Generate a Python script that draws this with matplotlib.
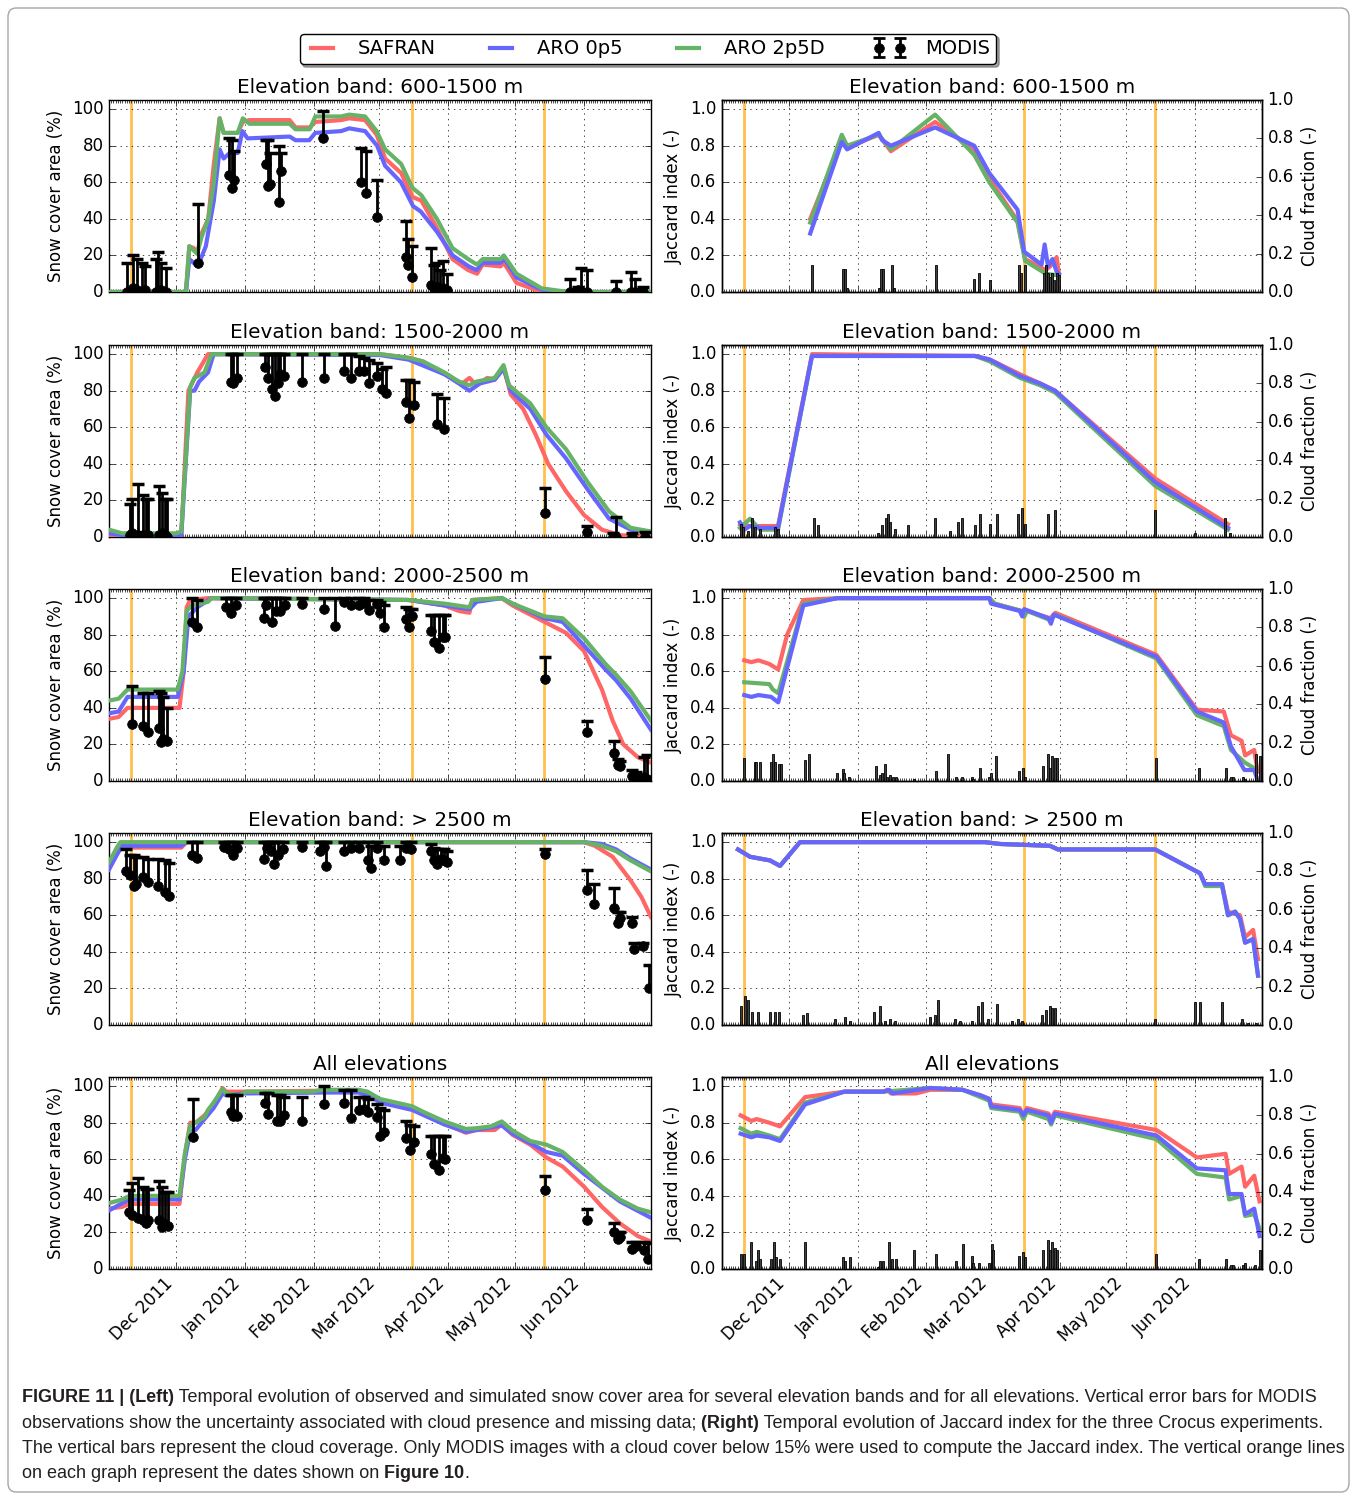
import numpy as np
import matplotlib
matplotlib.use('Agg')
import matplotlib.pyplot as plt
import matplotlib.dates as mdates
from matplotlib.lines import Line2D
from matplotlib.patches import FancyBboxPatch

plt.style.use('classic')
plt.rcParams['figure.facecolor'] = 'white'
plt.rcParams['savefig.facecolor'] = 'white'
plt.rcParams['font.family'] = ['DejaVu Sans']

# ---- data: days since 2011-11-01 ----
titles = ['Elevation band: 600-1500 m', 'Elevation band: 1500-2000 m',
          'Elevation band: 2000-2500 m', 'Elevation band: > 2500 m', 'All elevations']
orange_dates = ['2011-11-11', '2012-03-16', '2012-05-14']

# snow cover area (%), simulations (day, value)
sca1_safran = [(0, 0), (34.5, 0), (36, 25), (38, 24), (39.5, 21), (41.5, 32), (44.5, 40), (47, 70), (49.6, 95),
               (51.4, 87), (57.7, 87), (60, 93), (63, 94), (81, 94), (83.6, 90), (90, 90), (92.5, 93), (104, 94),
               (107.7, 95), (114.8, 94), (120, 86), (123.8, 73), (131, 65), (136, 52), (140, 50), (147, 35),
               (154, 18), (161, 12), (165, 10), (167.5, 15), (175.5, 14), (177, 16), (182.7, 5), (194, 0), (243, 0)]
sca1_aro05 = [(0, 0), (34.5, 0), (36, 18), (39.8, 14), (43.4, 25), (47, 50), (49.6, 78), (51.4, 73), (54.1, 76),
              (57.7, 76), (59.8, 88), (62.1, 84), (81, 85), (83.6, 83), (89.8, 83), (92.5, 87), (104.1, 88),
              (107.7, 89.5), (114.8, 88), (120.2, 80), (123.8, 69), (130.9, 60), (136.3, 47), (139.8, 44),
              (147, 33), (154.1, 20), (161.3, 14), (164.8, 12), (167.5, 16), (175.5, 16), (177.3, 18),
              (182.7, 8), (194.3, 1), (205.9, 0), (243, 0)]
sca1_aro25 = [(0, 0), (34.5, 0), (36, 25), (39.5, 21), (41.5, 30), (44.5, 40), (47, 60), (49.6, 95), (51.4, 87),
              (57.7, 87), (60, 95), (63, 92), (81, 92), (83.6, 89), (90, 89), (92.5, 96), (104, 96), (107.7, 97),
              (114.8, 96), (120, 88), (123.8, 78), (131, 70), (136, 57), (140, 53), (147, 40), (154, 24),
              (161, 18), (165, 15), (167.5, 18), (175.5, 18), (177, 20), (182.7, 10), (194, 2), (206, 0), (243, 0)]

sca2_safran = [(0, 1), (32.4, 0), (35.6, 80), (39.6, 90), (44.4, 100), (121.5, 100), (134.3, 98), (140.8, 96),
               (150.4, 89), (158.4, 84), (161.6, 87), (164.8, 83), (169.6, 87), (172.9, 86), (176.9, 93),
               (180.1, 78), (185.7, 70), (191.3, 56), (196.9, 40), (204.9, 25), (213, 12), (221, 4), (229, 1),
               (243, 0)]
sca2_aro05 = [(0, 2), (5.9, 1), (32.4, 1), (36.4, 80), (38.3, 80), (40.4, 85), (44.4, 90), (46.9, 100),
              (121.5, 99.5), (134.3, 97), (150.4, 89), (156.8, 84), (161.6, 80), (166.4, 84), (172.9, 86),
              (176.9, 92), (180.1, 80), (188.9, 70), (196.1, 56), (204.9, 43), (214.6, 26), (224.2, 10),
              (233.9, 4), (243, 3)]
sca2_aro25 = [(0, 4), (5.9, 2), (30, 2), (32.4, 3), (36.4, 82), (38.3, 87), (42.8, 90), (46, 100), (121.5, 100),
              (134.3, 98), (140.8, 96), (150.4, 90), (156.8, 85), (161.6, 83), (164.8, 85), (172.9, 87),
              (176.9, 94), (179.3, 83), (188.9, 73), (196.1, 60), (204.9, 48), (214.6, 30), (224.2, 14),
              (233.9, 5), (243, 3)]

sca3_safran = [(0, 34), (4.3, 35), (8.3, 40), (31.6, 40), (33.5, 60), (34.8, 95), (36.4, 99), (44.4, 100),
               (134.3, 99), (150.4, 96), (156.8, 93), (161.6, 92), (162.9, 99), (176.1, 100), (180.9, 96),
               (195.3, 87), (204.9, 81), (213, 71), (221, 50), (225.8, 33), (230.6, 20), (237.1, 13), (243, 10)]
sca3_aro05 = [(0, 37), (4.3, 38), (8.3, 46), (30.8, 46), (33.5, 60), (35.6, 90), (39.6, 95), (46, 100),
              (134.3, 99), (150.4, 96), (161.6, 94), (164.8, 98), (176.1, 100), (180.9, 97), (195.3, 89),
              (203.4, 87), (213, 74), (222.6, 61), (227.4, 55), (233.9, 45), (243, 28)]
sca3_aro25 = [(0, 44), (4.3, 45), (8.3, 50), (30.8, 50), (32.9, 60), (34.8, 93), (37.2, 96), (44.4, 98),
              (46, 100), (134.3, 99), (150.4, 97), (161.6, 95), (162.9, 99), (176.1, 100), (180.9, 97),
              (195.3, 90), (203.4, 89), (213, 78), (222.6, 64), (227.4, 58), (233.9, 49), (243, 33)]

sca4_safran = [(0, 88.5), (3.5, 95), (5.9, 97), (32.4, 97), (34.8, 100), (213, 100), (217.8, 98),
               (225.8, 92), (233.9, 79), (238.7, 70), (243, 59)]
sca4_aro05 = [(0, 85), (3.5, 93), (5.9, 98), (32.4, 98), (34.8, 100), (213, 100), (221, 99), (227.4, 96),
              (233.9, 91), (243, 85)]
sca4_aro25 = [(0, 89), (3.5, 97), (5.1, 100), (213, 100), (221, 98), (227.4, 95), (233.9, 90), (243, 84)]

sca5_safran = [(0, 33), (5.9, 34), (9.1, 35.6), (31.6, 35.6), (34, 62), (36.4, 80), (38.8, 80), (42.8, 84),
               (46.9, 90), (50.9, 99), (52.5, 97), (60.5, 97), (95.8, 97.5), (111.9, 97.5), (116.7, 96),
               (121.5, 92), (135.9, 87.5), (150.4, 79.5), (160, 74.5), (164.8, 76), (172.9, 76), (176.1, 79),
               (180.9, 73.4), (188.9, 68), (196.1, 61), (203.4, 56), (213, 45), (221, 34), (229, 25),
               (237.1, 18), (243, 15)]
sca5_aro05 = [(0, 32), (5.9, 36), (9.1, 38), (31.6, 38), (34, 60), (36.4, 75), (38.8, 76), (42.8, 82),
              (46.9, 88), (50.9, 96), (52.5, 95), (60.5, 96), (95.8, 96.5), (111.9, 96.5), (116.7, 95),
              (121.5, 91), (135.9, 87), (150.4, 79), (160, 75), (176.1, 78.5), (180.9, 74), (196.1, 64),
              (203.4, 62), (213, 52), (229, 37), (243, 28)]
sca5_aro25 = [(0, 36), (5.9, 38), (9.1, 40), (31.6, 40), (34, 63), (36.4, 78.5), (38.8, 80), (42.8, 83),
              (44.4, 87), (46.9, 91), (50.9, 98.5), (52.5, 96), (58.9, 95), (61.3, 97), (91, 97), (95.8, 98),
              (111.9, 98), (115.9, 97), (121.5, 93), (135.9, 89), (140.8, 86), (150.4, 80.7), (160, 76.6),
              (164.8, 77), (171.2, 78), (176.1, 80.7), (180.9, 75.7), (188.9, 70), (196.1, 68), (203.4, 64),
              (213, 54), (221, 45), (229, 38), (237.1, 33), (243, 31)]

# MODIS observations: day, value, upper bound
m1_d = [8, 10.9, 12.7, 14.8, 16.25, 20.9, 22, 23.4, 25.5, 39.8, 53.75, 55, 55.9, 70.2, 71.2, 72.3, 76.4, 77, 96,
        113, 115, 120, 133, 134, 136, 144.3, 145.5, 147, 148.4, 149.6, 151.4, 206.8, 210.4, 211.6, 214.3, 227.3,
        234, 235.7, 239.5]
m1_v = [0, 2, 1, 0, 1, 0, 0, 1, 0, 16, 64, 57, 61, 70, 58, 59, 49, 66, 84, 60, 54, 41, 19, 15, 8, 4, 2, 3, 1, 2, 1,
        0, 1, 0, 0, 0, 0, 0, 0]
m1_t = [16, 20, 18, 16, 14, 18, 22, 16, 13, 48, 84, 83, 77, 83, 83, 76, 80, 76, 99, 79, 77, 61, 39, 29, 25, 24, 15,
        16, 12, 17, 10, 7, 3, 13, 12, 6, 11, 7, 3]

m2_d = [9.5, 10.4, 13.1, 15.2, 16.4, 17.5, 22.3, 23.6, 24.9, 26, 54.9, 55.7, 57.3, 70.1, 71.4, 73.3, 74.5, 75.7,
        76.5, 78.5, 86.5, 96.6, 105.4, 108.7, 112.2, 114.3, 116.4, 120.2, 122.3, 124.4, 133, 134.3, 136.7, 147.2,
        150.4, 195.3, 214.3, 225.8, 227.4, 234.7, 240.3]
m2_v = [1, 2, 1, 1, 1, 1, 1, 2, 1, 0, 85, 84, 87, 93, 87, 81, 77, 84, 89, 88, 85, 87, 91, 87, 91, 91, 84, 88, 81, 79,
        74, 65, 72, 62, 59, 13, 3, 0, 0, 0, 0]
m2_t = [18, 21, 29, 23, 21, 21, 28, 24, 21, 21, 100, 100, 100, 100, 100, 100, 100, 100, 100, 100, 100, 100, 100,
        100, 99, 98, 97, 95, 92, 93, 86, 86, 85, 78, 76, 27, 6, 2, 11, 2, 3]

m3_d = [10.4, 15.2, 17.5, 22.3, 23.3, 24.4, 26, 37.2, 39.3, 52.5, 54.9, 57, 69.3, 70.6, 73.3, 74.9, 76.5, 79, 86.5,
        96.6, 101.4, 105.4, 108.3, 112.2, 114.3, 116.4, 120.2, 121.5, 123.4, 133, 134.3, 135.9, 144.3, 145.9, 148,
        149.6, 150.7, 195.3, 214.3, 226.3, 228.2, 229.3, 234.7, 236.3, 240, 241.1]
m3_v = [31, 30, 27, 29, 21.5, 23, 22, 87, 84, 95, 92, 96, 89, 96, 87, 93, 93, 96, 97, 94, 85, 98, 96, 96, 97.6, 93.4,
        96.7, 92, 84, 88.5, 84, 90, 82, 76, 73, 78.5, 79, 56, 27, 15.5, 9, 8, 3, 2, 2, 1]
m3_t = [52, 48, 48, 49, 48, 46, 40, 100, 99, 100, 100, 100, 100, 100, 100, 100, 100, 100, 100, 100, 100, 100, 100,
        100, 100, 99, 99, 98, 96, 95, 94, 94, 91, 91, 91, 91, 91, 68, 33, 22, 12, 11, 6, 5, 13, 14]

m4_d = [7.7, 9.6, 11.2, 12, 15.2, 17.5, 22, 24.9, 26.8, 37.2, 39.6, 51.7, 53.8, 55.7, 57.3, 69.3, 70.9, 72.5, 73.8,
        75.7, 78.2, 86.5, 94.5, 96.6, 97.4, 105.4, 108.3, 112.2, 115.9, 117.5, 120.2, 123.4, 130.3, 133, 135.6,
        144.3, 145.9, 147.2, 148.8, 150.4, 151.7, 195.3, 214.3, 217.5, 226.3, 228.2, 229, 234.7, 235.5, 239.5, 241.9]
m4_v = [84, 82, 76, 77, 81, 78, 76, 73, 70.6, 92.7, 91.6, 97.6, 96, 93, 97, 91, 97, 95, 88, 92.7, 96, 97.6, 95,
        97.6, 87, 95, 96.7, 97, 90, 86, 97, 90, 90, 97, 96.4, 95, 90, 88, 91, 90, 89, 93.5, 74, 66, 64, 56, 58.4,
        56, 41.6, 43.4, 20.4]
m4_t = [96, 93, 93, 92, 92, 91, 91, 90, 88.5, 100, 100, 100, 100, 100, 100, 100, 100, 100, 100, 100, 100, 100, 100,
        100, 100, 100, 100, 100, 100, 98, 100, 98, 98, 100, 100, 99, 97, 96, 96, 96, 95, 96, 85, 77, 75, 62, 62, 59,
        45, 45, 33]

m5_d = [9, 10.4, 13.1, 15.2, 16.4, 17.5, 22.3, 23.6, 24.9, 26.5, 37.7, 54.9, 55.7, 57.3, 70.1, 71.4, 75.3, 76.5,
        78.5, 86.5, 96.6, 105.4, 108.7, 112.2, 114.3, 115.9, 120.2, 121.5, 123.1, 133, 135, 136.7, 144.3, 145.9,
        148, 149.6, 150.7, 195.3, 214.3, 226.3, 228.2, 229.3, 234.7, 236.3, 240, 241.6]
m5_v = [31, 29.5, 28, 27, 25, 27, 27, 23, 24.6, 23.7, 72, 86, 83.6, 83.6, 91, 85, 80.7, 80.7, 84, 81, 90, 91, 82.5,
        86.7, 87.6, 85.8, 83, 72.6, 75, 71.5, 65, 69.7, 63, 57.5, 54, 60.6, 60, 43, 27, 20.4, 16.4, 17.3, 11, 12.8,
        10.6, 5.5]
m5_t = [43, 47, 50, 45, 44, 44, 48, 45, 42, 42, 93, 95, 95, 95, 96, 96, 95, 95, 94, 94, 100, 98, 98, 94, 94, 93, 90,
        88, 87, 81, 79, 78, 73, 73, 73, 73, 73, 51, 33, 25, 20, 20, 15, 15, 15, 14]

# Jaccard index (day, value)
jac1_safran = [(39.7, 0.40), (53.9, 0.83), (56.3, 0.79), (70.5, 0.86), (76, 0.77), (79.7, 0.80), (95.9, 0.93),
               (113.5, 0.78), (120.3, 0.62), (133, 0.39), (136.4, 0.18), (145.7, 0.12), (147.7, 0.14),
               (150.6, 0.19), (151.6, 0.10)]
jac1_aro25 = [(39.7, 0.38), (53.9, 0.86), (56.3, 0.80), (70.5, 0.86), (76, 0.78), (95.9, 0.97), (113.5, 0.75),
              (120.3, 0.60), (133, 0.38), (136.4, 0.17), (145.7, 0.10), (151.6, 0.09)]
jac1_aro05 = [(39.7, 0.32), (53.9, 0.82), (56.3, 0.78), (70.5, 0.87), (72.1, 0.83), (76, 0.80), (95.9, 0.90),
              (113.5, 0.80), (120.3, 0.65), (133, 0.45), (136, 0.22), (143.8, 0.15), (145.2, 0.26), (146.7, 0.14),
              (148.7, 0.18), (150.6, 0.11), (151.6, 0.10)]

jac2_safran = [(8.1, 0.07), (12.6, 0.06), (17.1, 0.06), (25.2, 0.06), (40.5, 1.0), (113.9, 0.99), (120.6, 0.97),
               (134.1, 0.89), (143.1, 0.84), (149.9, 0.80), (194.9, 0.32), (227.7, 0.07)]
jac2_aro25 = [(8.1, 0.05), (12.6, 0.10), (17.1, 0.04), (25.2, 0.04), (40.5, 0.99), (113.9, 0.99), (120.6, 0.96),
              (134.1, 0.87), (143.1, 0.83), (149.9, 0.79), (194.9, 0.28), (227.7, 0.04)]
jac2_aro05 = [(8.1, 0.08), (10, 0.04), (12.6, 0.06), (17.1, 0.05), (25.2, 0.05), (40.5, 0.99), (113.9, 0.99),
              (120.6, 0.97), (134.1, 0.88), (143.1, 0.84), (149.9, 0.80), (194.9, 0.30), (227.7, 0.05)]

jac3_safran = [(10, 0.66), (13.2, 0.65), (16.4, 0.66), (21.3, 0.64), (25.3, 0.61), (29.3, 0.80), (36.6, 0.99),
               (51.9, 1.0), (120.3, 1.0), (122.7, 0.97), (134.8, 0.93), (136, 0.90), (137.2, 0.93), (147.7, 0.89),
               (150, 0.92), (195.5, 0.69), (213.7, 0.39), (225.8, 0.38), (229, 0.25), (233.8, 0.22),
               (235.4, 0.14), (239.5, 0.17), (241, 0.05)]
jac3_aro25 = [(10, 0.54), (21.3, 0.53), (22.9, 0.50), (25.3, 0.48), (36.6, 0.97), (51.9, 1.0), (120.3, 1.0),
              (122.7, 0.97), (134.8, 0.93), (136, 0.90), (137.2, 0.93), (147.7, 0.88), (150, 0.91), (195.5, 0.67),
              (213.7, 0.36), (225.8, 0.30), (229, 0.17), (235.4, 0.10), (239.5, 0.07), (240.3, 0.05)]
jac3_aro05 = [(10, 0.47), (13.2, 0.46), (16.4, 0.47), (22.1, 0.46), (25.3, 0.43), (36.6, 0.96), (51.9, 1.0),
              (120.3, 1.0), (121.1, 0.97), (134, 0.93), (135.1, 0.90), (136, 0.94), (146.9, 0.89), (148, 0.86),
              (149.3, 0.91), (195.5, 0.68), (213.7, 0.38), (225.8, 0.32), (229, 0.19), (235.1, 0.06),
              (239.5, 0.06), (240.6, 0.02)]

jac4_safran = [(7.2, 0.96), (12.6, 0.92), (21.6, 0.90), (26.1, 0.87), (35.1, 1.0), (118.4, 1.0), (125.1, 0.99),
               (147.6, 0.98), (151.2, 0.96), (194.9, 0.96), (215.1, 0.83), (217.4, 0.77), (225, 0.77),
               (227.7, 0.62), (233.1, 0.60), (235.4, 0.48), (239, 0.52), (241.2, 0.36)]
jac4_aro25 = [(7.2, 0.96), (12.6, 0.92), (21.6, 0.90), (26.1, 0.87), (35.1, 1.0), (118.4, 1.0), (125.1, 0.99),
              (147.6, 0.98), (151.2, 0.96), (194.9, 0.96), (215.1, 0.83), (217.4, 0.76), (225, 0.76),
              (227.7, 0.60), (230.9, 0.62), (233.1, 0.58), (235.4, 0.45), (239, 0.47), (241.2, 0.27)]
jac4_aro05 = [(7.2, 0.96), (12.6, 0.92), (21.6, 0.90), (26.1, 0.87), (35.1, 1.0), (118.4, 1.0), (125.1, 0.99),
              (147.6, 0.98), (151.2, 0.96), (194.9, 0.96), (215.1, 0.83), (217.4, 0.77), (225, 0.77),
              (227.7, 0.60), (230.9, 0.62), (233.1, 0.58), (235.4, 0.45), (239, 0.47), (241.2, 0.27)]

jac5_safran = [(8.4, 0.84), (13.2, 0.81), (15.6, 0.82), (21.3, 0.80), (26.1, 0.78), (37.4, 0.94), (55.1, 0.97),
               (72.8, 0.97), (74.4, 0.98), (76, 0.96), (87.3, 0.96), (93.7, 0.98), (108.2, 0.98), (116.3, 0.95),
               (120.3, 0.93), (121.1, 0.90), (134, 0.88), (135.6, 0.84), (137.2, 0.88), (146.9, 0.85),
               (148.1, 0.82), (149.8, 0.86), (195.5, 0.76), (213.7, 0.61), (226.6, 0.63), (228.2, 0.52),
               (233.8, 0.56), (235.4, 0.45), (239.5, 0.51), (241.9, 0.37)]
jac5_aro25 = [(8.4, 0.77), (13.2, 0.74), (15.6, 0.75), (21.3, 0.73), (26.1, 0.71), (37.4, 0.91), (55.1, 0.97),
              (72.8, 0.97), (93.7, 0.99), (108.2, 0.98), (116.3, 0.94), (120.3, 0.92), (121.1, 0.88), (134, 0.86),
              (135.6, 0.82), (137.2, 0.86), (146.9, 0.82), (148.1, 0.79), (149.8, 0.84), (195.5, 0.71),
              (213.7, 0.52), (226.6, 0.50), (228.2, 0.38), (233.8, 0.40), (235.4, 0.29), (239.5, 0.30),
              (241.9, 0.22)]
jac5_aro05 = [(8.4, 0.74), (13.2, 0.72), (15.6, 0.73), (21.3, 0.72), (26.1, 0.70), (37.4, 0.90), (55.1, 0.97),
              (72.8, 0.97), (75.2, 0.98), (76.8, 0.96), (93.7, 0.99), (108.2, 0.98), (116.3, 0.95), (120.3, 0.93),
              (121.1, 0.89), (134, 0.87), (135.6, 0.84), (137.2, 0.87), (146.9, 0.84), (148.1, 0.80),
              (149.8, 0.85), (195.5, 0.73), (213.7, 0.55), (226.6, 0.54), (228.2, 0.41), (233.8, 0.41),
              (235.4, 0.30), (239.5, 0.33), (241.9, 0.18)]

# cloud fraction bars
cf1_d = [40.7, 54.3, 55.3, 56.3, 70.5, 71.5, 72.5, 76.4, 77.4, 96.5, 113.5, 115.5, 120.4, 133.6, 134.6, 136.4,
         144.8, 145.7, 146.7, 147.7, 148.7, 149.6, 150.6, 151.6]
cf1_v = [0.14, 0.12, 0.12, 0.02, 0.02, 0.12, 0.12, 0.14, 0.02, 0.14, 0.07, 0.10, 0.06, 0.14, 0.10, 0.14, 0.10,
         0.14, 0.10, 0.08, 0.10, 0.06, 0.10, 0.09]
cf2_d = [8.6, 9.5, 11.7, 13.5, 14.9, 17.1, 23.9, 25.2, 41.4, 43.2, 70.2, 72, 73.8, 74.7, 75.6, 77.9, 83.7, 95.9,
         102.6, 106.2, 108, 113.9, 116.1, 120.6, 123.8, 133.2, 135, 136.4, 146.7, 149.9, 194.9, 212.9, 226.4, 228.7]
cf2_v = [0.07, 0.05, 0.03, 0.1, 0.05, 0.04, 0.05, 0.04, 0.1, 0.06, 0.02, 0.06, 0.1, 0.12, 0.08, 0.04, 0.06, 0.1,
         0.03, 0.08, 0.1, 0.06, 0.12, 0.07, 0.12, 0.12, 0.15, 0.07, 0.12, 0.14, 0.14, 0.02, 0.1, 0.02]
cf3_d = [10, 14.8, 15.3, 17.2, 22.1, 22.9, 23.7, 25.8, 26.4, 37.4, 39.3, 51.9, 54.3, 55.1, 57.2, 69.3, 71.2, 72,
         73.3, 74.4, 75.5, 76.8, 78.4, 86.5, 96.5, 101.5, 105.3, 108.2, 112.3, 113.1, 116.3, 120.3, 121.1, 123.5,
         133.7, 135.6, 136.4, 144.5, 146.6, 147.7, 148.5, 149.8, 150.9, 195.5, 214.5, 226.6, 229, 229.8, 234.6,
         235.4, 240.3, 241.9]
cf3_v = [0.12, 0.1, 0.1, 0.1, 0.1, 0.14, 0.1, 0.09, 0.09, 0.11, 0.14, 0.04, 0.06, 0.04, 0.02, 0.08, 0.03, 0.04,
         0.09, 0.02, 0.03, 0.02, 0.02, 0.01, 0.05, 0.14, 0.02, 0.02, 0.02, 0.01, 0.07, 0.02, 0.04, 0.13, 0.05, 0.07,
         0.02, 0.08, 0.14, 0.07, 0.13, 0.12, 0.12, 0.12, 0.07, 0.07, 0.02, 0.02, 0.02, 0.01, 0.14, 0.13]
cf4_d = [8.6, 10.4, 11.7, 13.5, 16.2, 21.6, 23.9, 25.7, 36.5, 38.3, 50.9, 55.4, 57.6, 68.4, 71.1, 73.4, 75.6, 77.9,
         93.6, 95.9, 97.2, 104.9, 107.1, 112.5, 115.2, 117, 119.7, 123.8, 130.5, 133.2, 135, 144, 145.8, 147.6,
         148.5, 149.9, 194.9, 212.9, 215.1, 225, 234, 236.7, 240.4]
cf4_v = [0.1, 0.15, 0.13, 0.07, 0.07, 0.07, 0.07, 0.07, 0.05, 0.06, 0.03, 0.04, 0.02, 0.07, 0.1, 0.02, 0.03, 0.02,
         0.04, 0.05, 0.13, 0.03, 0.02, 0.02, 0.1, 0.12, 0.03, 0.11, 0.02, 0.03, 0.02, 0.05, 0.08, 0.1, 0.09, 0.09,
         0.03, 0.12, 0.12, 0.12, 0.03, 0.01, 0.01]
cf5_d = [8.7, 9.7, 13.2, 15.2, 16.1, 17.2, 22.1, 23.2, 24.2, 26.1, 37.4, 54.3, 55.4, 57.5, 70.4, 71.2, 72.5, 75.2,
         76.5, 78.4, 86.5, 96.5, 105.3, 108.6, 112.3, 113.1, 115.5, 120.3, 121.4, 122.1, 133.7, 135.6, 136.4, 144.5,
         146.6, 147.7, 148.5, 149.8, 150.9, 195.5, 214.5, 226.6, 229, 229.8, 234.6, 235.4, 240, 241.9]
cf5_v = [0.08, 0.08, 0.14, 0.04, 0.1, 0.05, 0.05, 0.14, 0.06, 0.05, 0.14, 0.06, 0.04, 0.06, 0.01, 0.04, 0.04,
         0.14, 0.05, 0.05, 0.1, 0.08, 0.04, 0.13, 0.07, 0.03, 0.03, 0.03, 0.13, 0.1, 0.07, 0.09, 0.06, 0.1, 0.15,
         0.1, 0.14, 0.11, 0.1, 0.08, 0.05, 0.05, 0.02, 0.02, 0.02, 0.03, 0.02, 0.1]

RED, BLUE, GREEN, ORANGE = '#ff6666', '#6666ff', '#66b266', '#ffc04d'
T0 = mdates.date2num(np.datetime64('2011-11-01'))
T1 = mdates.date2num(np.datetime64('2012-07-01'))

W, H = 1357, 1494
fig = plt.figure(figsize=(W / 100, H / 100), dpi=100)


def xy(pts):
    d, v = zip(*pts)
    return T0 + np.array(d), np.array(v)


def dress(ax, bottom):
    ax.set_xlim(T0, T1)
    ax.xaxis.set_major_locator(mdates.MonthLocator(bymonth=[12, 1, 2, 3, 4, 5, 6]))
    ax.xaxis.set_minor_locator(mdates.DayLocator())
    ax.xaxis.set_major_formatter(mdates.DateFormatter('%b %Y'))
    ax.grid(True)
    if bottom:
        plt.setp(ax.get_xticklabels(), rotation=45, ha='right')
    else:
        ax.tick_params(labelbottom=False)
    for d in orange_dates:
        ax.axvline(mdates.date2num(np.datetime64(d)), color=ORANGE, lw=2, zorder=1)


sca = [(sca1_safran, sca1_aro05, sca1_aro25), (sca2_safran, sca2_aro05, sca2_aro25),
       (sca3_safran, sca3_aro05, sca3_aro25), (sca4_safran, sca4_aro05, sca4_aro25),
       (sca5_safran, sca5_aro05, sca5_aro25)]
modis = [(m1_d, m1_v, m1_t), (m2_d, m2_v, m2_t), (m3_d, m3_v, m3_t), (m4_d, m4_v, m4_t), (m5_d, m5_v, m5_t)]
jac = [(jac1_safran, jac1_aro05, jac1_aro25), (jac2_safran, jac2_aro05, jac2_aro25),
       (jac3_safran, jac3_aro05, jac3_aro25), (jac4_safran, jac4_aro05, jac4_aro25),
       (jac5_safran, jac5_aro05, jac5_aro25)]
clouds = [(cf1_d, cf1_v), (cf2_d, cf2_v), (cf3_d, cf3_v), (cf4_d, cf4_v), (cf5_d, cf5_v)]

tops = [100, 345, 589, 833, 1077]
for i in range(5):
    bottom = i == 4
    b = 1 - (tops[i] + 192) / H
    # left: snow cover area
    ax = fig.add_axes([109 / W, b, 542 / W, 192 / H])
    dress(ax, bottom)
    s, a5, a25 = sca[i]
    for pts, c in ((s, RED), (a5, BLUE), (a25, GREEN)):
        x, y = xy(pts)
        ax.plot(x, y, color=c, lw=3, zorder=3)
    md, mv, mt = modis[i]
    mx = T0 + np.array(md)
    mv = np.array(mv, float)
    mt = np.array(mt, float)
    ax.errorbar(mx, mv, yerr=[np.zeros_like(mv), mt - mv], fmt='o', color='k', mec='k', ms=7,
                elinewidth=2, capsize=0, zorder=4)
    ax.plot(mx, mt, ls='none', marker='_', ms=9, mew=2.5, color='k', zorder=4)
    ax.set_ylim(0, 105)
    ax.set_yticks(range(0, 101, 20))
    ax.set_ylabel('Snow cover area (%)')
    ax.set_title(titles[i], fontsize=14.4)

    # right: Jaccard index + cloud fraction
    ax = fig.add_axes([722 / W, b, 540 / W, 192 / H])
    dress(ax, bottom)
    s, a5, a25 = jac[i]
    for pts, c in ((s, RED), (a25, GREEN), (a5, BLUE)):
        x, y = xy(pts)
        ax.plot(x, y, color=c, lw=3, zorder=3)
    ax.set_ylim(0, 1.05)
    ax.set_yticks(np.arange(0, 1.01, 0.2))
    ax.set_ylabel('Jaccard index (-)')
    ax.set_title(titles[i], fontsize=14.4)
    ax2 = ax.twinx()
    cd, cv = clouds[i]
    ax2.bar(T0 + np.array(cd), cv, width=0.9, color='0.25', edgecolor='k', lw=0.6)
    ax2.set_ylim(0, 1)
    ax2.set_yticks(np.arange(0, 1.01, 0.2))
    ax2.set_ylabel('Cloud fraction (-)')
    ax2.set_xlim(T0, T1)

# legend handle for MODIS drawn on a hidden axes
hid = fig.add_axes([0, 0, 0.01, 0.01])
hid.set_visible(False)
eb = hid.errorbar([0], [0], yerr=[1], fmt='o', color='k', mec='k', ms=7, elinewidth=2, capsize=4, capthick=2)

handles = [Line2D([], [], color=RED, lw=3), Line2D([], [], color=BLUE, lw=3),
           Line2D([], [], color=GREEN, lw=3), eb]
fig.legend(handles, ['SAFRAN', 'ARO 0p5', 'ARO 2p5D', 'MODIS'], loc='center',
           bbox_to_anchor=(648 / W, 1 - 49 / H), ncol=4, fontsize=14, numpoints=2,
           shadow=True, fancybox=True, columnspacing=2.5, handlelength=1.7, handletextpad=1.0,
           borderpad=0.3)

# frame around the figure
fig.patches.append(FancyBboxPatch((8 / W, 2 / H), 1341 / W, 1484 / H,
                                  boxstyle='round,pad=0,rounding_size=0.006', transform=fig.transFigure,
                                  fill=False, ec='0.65', lw=1))

# caption with bold fragments
caption = [
    [('FIGURE 11 | (Left)', True), (' Temporal evolution of observed and simulated snow cover area for several '
                                    'elevation bands and for all elevations. Vertical error bars for MODIS', False)],
    [('observations show the uncertainty associated with cloud presence and missing data;', False),
     (' (Right)', True), (' Temporal evolution of Jaccard index for the three Crocus experiments.', False)],
    [('The vertical bars represent the cloud coverage. Only MODIS images with a cloud cover below 15% were used '
      'to compute the Jaccard index. The vertical orange lines', False)],
    [('on each graph represent the dates shown on', False), (' Figure 10', True), ('.', False)],
]
renderer = fig.canvas.get_renderer()
probe = fig.text(0, 0, ''.join(p for p, _ in caption[0]), fontsize=12, family='Liberation Sans')
w12 = probe.get_window_extent(renderer).width
probe.remove()
csize = 12 * 1292 / w12
for k, line in enumerate(caption):
    x = 22
    y = 1 - (1398 + 25.3 * k) / H
    for txt, bold in line:
        t = fig.text(x / W, y, txt, fontsize=csize, family='Liberation Sans', va='center', ha='left',
                     fontweight='bold' if bold else 'normal', color='#231f20')
        x += t.get_window_extent(renderer).width

fig.savefig('out.png', dpi=100)
